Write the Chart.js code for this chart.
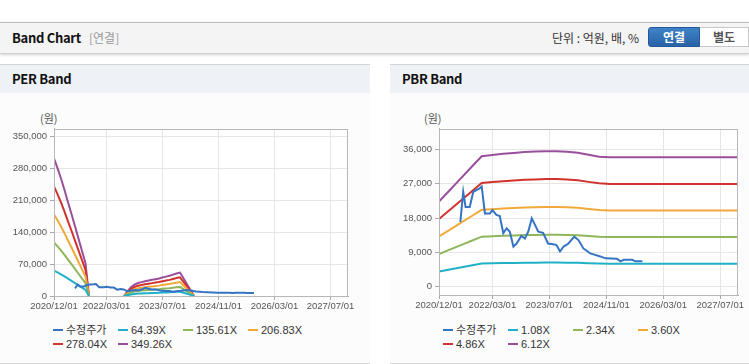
<!DOCTYPE html>
<html><head><meta charset="utf-8">
<script src="https://cdn.jsdelivr.net/npm/chart.js@4/dist/chart.umd.min.js"></script>
<style>
body{margin:0;width:749px;height:364px;overflow:hidden;background:#fff;position:relative;font-family:"Noto Sans CJK KR","Liberation Sans",sans-serif;}
.abs{position:absolute;}
#hdr{left:0;top:22px;width:749px;height:30px;background:#f4f4f4;border-top:1px solid #bdbdbd;border-bottom:1px solid #cfcfcf;box-shadow:0 1px 3px rgba(0,0,0,0.18);}
.panel{top:64px;height:298px;border-top:1px solid #d2d2d2;border-bottom:1px solid #d6d6d6;background:#fcfcfc;}
.ptitle{position:absolute;left:0;top:0;right:0;height:28px;background:#eef1f6;font-weight:700;font-size:13px;line-height:28px;padding-left:12px;color:#111;letter-spacing:-0.3px;}
.unit{font-size:11px;color:#555;}
.leg{position:absolute;font-size:11px;color:#333;font-family:"Liberation Sans","Noto Sans CJK KR",sans-serif;white-space:nowrap;line-height:14px;}
.leg i{position:absolute;left:0;top:6px;width:10px;height:2px;}
.leg span{position:absolute;left:13px;top:0;}
</style></head>
<body>
<div id="hdr" class="abs">
  <div class="abs" style="left:12px;top:0;line-height:29px;font-size:13px;font-weight:700;color:#111;letter-spacing:-0.3px;">Band Chart</div>
  <div class="abs" style="left:89px;top:0;line-height:29px;font-size:12px;color:#999;">[연결]</div>
  <div class="abs" style="left:552px;top:0;line-height:29px;font-size:12px;color:#333;">단위 : 억원, 배, %</div>
  <div class="abs" style="left:648px;top:4px;width:52px;height:20px;background:linear-gradient(#3f82c9,#2a63a6);border:1px solid #25589a;border-radius:3px 0 0 3px;box-sizing:border-box;color:#fff;font-weight:700;font-size:12px;line-height:18px;text-align:center;">연결</div>
  <div class="abs" style="left:700px;top:4px;width:49px;height:20px;background:#fff;border:1px solid #c8c8c8;border-left:none;box-sizing:border-box;color:#555;font-weight:700;font-size:12px;line-height:18px;text-align:center;">별도</div>
</div>

<div class="abs panel" style="left:0;width:370px;">
  <div class="ptitle">PER Band</div>
</div>
<div class="abs panel" style="left:390px;width:359px;">
  <div class="ptitle">PBR Band</div>
</div>
<div class="abs unit" style="left:40px;top:110px;">(원)</div>
<div class="abs unit" style="left:424px;top:110px;">(원)</div>
<canvas id="per" class="abs" width="370" height="195" style="left:0;top:120px;"></canvas>
<canvas id="pbr" class="abs" width="359" height="195" style="left:390px;top:120px;"></canvas>
<div id="perLeg"></div>
<div id="pbrLeg"></div>

<script>
// ---------------- data ----------------
const xTickLabels = ['2020/12/01','2022/03/01','2023/07/01','2024/11/01','2026/03/01','2027/07/01'];
const xMinLabel = '2020/12/01';
const xMaxLabel = '2027/12/01';
const perYTicks = [0,70000,140000,210000,280000,350000];
const pbrYTicks = [0,9000,18000,27000,36000];

const priceLabel = '수정주가';
const priceDates = ['2021/06/01','2021/06/25','2021/07/15','2021/08/20','2021/09/20','2021/11/10','2021/12/01','2021/12/28',
 '2022/02/10','2022/03/01','2022/04/05','2022/05/03','2022/06/03','2022/07/01','2022/07/28','2022/08/28','2022/09/25',
 '2022/11/05','2022/12/05','2023/01/03','2023/02/03','2023/03/28','2023/05/08','2023/06/20','2023/08/03','2023/09/01',
 '2023/10/01','2023/11/01','2023/12/12','2024/02/01','2024/03/06','2024/04/18','2024/06/15','2024/07/27','2024/09/10',
 '2024/10/25','2025/02/01','2025/03/01','2025/03/28','2025/06/10','2025/07/06','2025/09/05'];
const priceValues = [17000,24900,20900,20900,24900,25700,26300,19200,
 19200,20100,18800,18500,14000,15300,14400,10500,11300,
 13300,12600,14400,17900,14400,14100,11300,11100,10900,
 9200,10500,11300,13100,12200,10000,8700,8300,7900,
 7400,7300,6600,7000,7000,6600,6600];

const perBandLabels = ['64.39X','135.61X','206.83X','278.04X','349.26X'];
const perBandDates = ['2020/12/01','2021/01/01','2021/02/01','2021/03/01','2021/04/01','2021/05/01','2021/06/01','2021/07/01',
 '2021/08/01','2021/09/01','2021/10/01','2022/01/01',
 '2022/08/01','2022/09/01','2022/10/01','2022/11/01','2022/12/01','2023/01/01','2023/02/01','2023/03/01','2023/04/01',
 '2023/05/01','2023/06/01','2023/07/01','2023/08/01','2023/09/01','2023/10/01','2023/11/01','2023/12/01','2024/01/01',
 '2024/02/01','2024/03/01','2024/04/01'];
const per64 = [55800,51800,47600,43000,38000,33200,28200,23200,18300,13300,0,null,
 0,1840,3500,4610,5260,5620,5990,6270,6550,6820,7100,7470,7840,8210,8670,9130,9500,7190,4790,2400,0];
const per135 = [117500,109100,100200,90500,80000,69900,59400,48900,38400,28000,0,null,
 0,3880,7380,9710,11070,11840,12620,13200,13780,14370,14950,15730,16500,17280,18250,19220,20000,15140,10100,5050,0];
const per206 = [179100,166400,152800,138000,122000,106600,90600,74600,58600,42600,0,null,
 0,5920,11250,14810,16880,18060,19250,20130,21020,21910,22800,23980,25170,26350,27830,29310,30500,23100,15400,7700,0];
const per278 = [240800,223700,205400,185500,164000,143300,121800,100300,78800,57300,0,null,
 0,7960,15130,19900,22690,24280,25870,27070,28260,29460,30650,32240,33830,35430,37420,39410,41000,31050,20700,10350,0];
const per349 = [302500,281000,258000,233000,206000,180000,153000,126000,99000,72000,0,null,
 0,10000,19000,25000,28500,30500,32500,34000,35500,37000,38500,40500,42500,44500,47000,49500,51500,39000,26000,13000,0];

const pbrBandLabels = ['1.08X','2.34X','3.60X','4.86X','6.12X'];
const pbrBandDates = ['2020/12/01','2021/03/01','2021/06/01','2021/09/01','2021/12/01','2022/03/01','2022/06/01','2022/09/01',
 '2022/12/01','2023/03/01','2023/06/01','2023/09/01','2023/12/01','2024/03/01','2024/06/01','2024/09/01','2024/12/01',
 '2025/03/01','2025/06/01','2025/09/01','2025/12/01','2026/03/01','2026/06/01','2026/09/01','2026/12/01','2027/03/01',
 '2027/06/01','2027/09/01','2027/12/01'];
const pbr108 = [3940,4470,4990,5520,6050,6100,6160,6200,6240,6260,6270,6270,6250,6210,6110,6030,5990,
 5990,5990,5990,5990,5990,5990,5990,5990,5990,5990,5990,5990];
const pbr234 = [8540,9680,10820,11960,13100,13220,13340,13430,13510,13560,13600,13600,13550,13460,13240,13060,12990,
 12990,12990,12990,12990,12990,12990,12990,12990,12990,12990,12990,12990];
const pbr360 = [13140,14890,16650,18400,20150,20340,20520,20660,20790,20860,20920,20920,20840,20700,20380,20090,19980,
 19980,19980,19980,19980,19980,19980,19980,19980,19980,19980,19980,19980];
const pbr486 = [17740,20110,22470,24840,27210,27460,27700,27900,28070,28160,28240,28240,28140,27950,27510,27120,26970,
 26970,26970,26970,26970,26970,26970,26970,26970,26970,26970,26970,26970];
const pbr612 = [22340,25320,28300,31280,34260,34580,34880,35130,35340,35470,35560,35560,35430,35190,34640,34150,33970,
 33970,33970,33970,33970,33970,33970,33970,33970,33970,33970,33970,33970];

const colors = ['#3574c4','#20b0c8','#8fb65b','#f1a93a','#d2322d','#9a4f9c'];

// ---------------- helpers ----------------
function monthIdx(s){const p=s.split('/').map(Number);return (p[0]-2020)*12+(p[1]-12)+(p[2]-1)/30;}
function xy(dates,vals){return dates.map((d,i)=>({x:monthIdx(d),y:vals[i]}));}
function fmt(v){return Number(v).toLocaleString('en-US');}

const frame = {
  id:'frame',
  beforeDraw(c){const a=c.chartArea,x=c.ctx;x.save();x.fillStyle='#ffffff';x.fillRect(a.left,a.top,a.right-a.left,a.bottom-a.top);x.restore();},
  afterDraw(c){const a=c.chartArea,x=c.ctx;x.save();x.strokeStyle='#b8b8b8';x.lineWidth=1;
    x.strokeRect(Math.round(a.left)+0.5,Math.round(a.top)+0.5,Math.round(a.right-a.left)-1,Math.round(a.bottom-a.top));x.restore();}
};

function makeChart(id, bandDates, bands, bandLabels, yMin, yMax, yTicks, yWidth, padRight, padBottom){
  const ds = [{label:priceLabel,data:xy(priceDates,priceValues),borderColor:colors[0]}];
  bands.forEach((b,i)=>ds.push({label:bandLabels[i],data:xy(bandDates,b),borderColor:colors[i+1]}));
  ds.forEach(d=>{d.borderWidth=2;d.pointRadius=0;d.fill=false;d.tension=0;d.spanGaps=false;});
  return new Chart(document.getElementById(id),{
    type:'line',
    data:{datasets:ds},
    plugins:[frame],
    options:{
      responsive:false,animation:false,devicePixelRatio:1,
      layout:{padding:{left:0,right:padRight,top:8,bottom:padBottom}},
      plugins:{legend:{display:false},tooltip:{enabled:false}},
      scales:{
        x:{type:'linear',min:monthIdx(xMinLabel),max:monthIdx(xMaxLabel),
          afterBuildTicks:s=>{s.ticks=xTickLabels.map(l=>({value:monthIdx(l)}));},
          afterFit:s=>{s.height=19;},
          ticks:{autoSkip:false,maxRotation:0,padding:1,color:'#555',font:{family:'Liberation Sans',size:9.5},
            callback:(v,i)=>xTickLabels[i]},
          grid:{color:'#e6e6e6',tickColor:'#a8a8a8',tickLength:4},
          border:{color:'#a8a8a8'}},
        y:{min:yMin,max:yMax,
          afterBuildTicks:s=>{s.ticks=yTicks.map(v=>({value:v}));},
          afterFit:s=>{s.width=yWidth;},
          ticks:{padding:3,color:'#555',font:{family:'Liberation Sans',size:9.5},callback:v=>fmt(v)},
          grid:{color:'#e6e6e6',tickColor:'#a8a8a8',tickLength:4},
          border:{color:'#a8a8a8'}}
      }
    }
  });
}

makeChart('per', perBandDates, [per64,per135,per206,per278,per349], perBandLabels, 0, 367500, perYTicks, 54, 22, 0);
makeChart('pbr', pbrBandDates, [pbr108,pbr234,pbr360,pbr486,pbr612], pbrBandLabels, -2250, 41500, pbrYTicks, 49, 11, 1);

function legend(elId, left0, labels){
  const host=document.getElementById(elId);
  const all=[priceLabel].concat(labels);
  all.forEach((l,i)=>{
    const row=Math.floor(i/4), col=i%4;
    const d=document.createElement('div');d.className='leg';
    d.style.left=(left0+53+65*col)+'px';d.style.top=(323+row*14)+'px';
    d.innerHTML='<i style="background:'+colors[i]+'"></i><span>'+l+'</span>';
    host.appendChild(d);
  });
}
legend('perLeg',0,perBandLabels);
legend('pbrLeg',390,pbrBandLabels);
</script>
</body></html>
